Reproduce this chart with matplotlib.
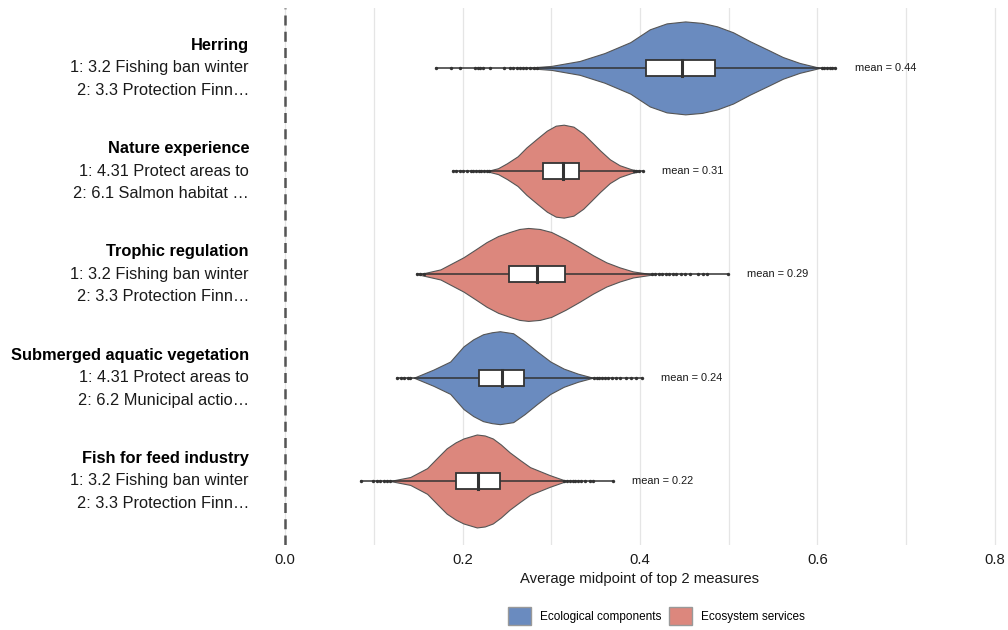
import matplotlib
matplotlib.use("Agg")
import matplotlib.pyplot as plt
from matplotlib.patches import Patch, Rectangle
from matplotlib.transforms import blended_transform_factory

plt.rcParams["font.family"] = ["Liberation Sans", "DejaVu Sans"]

# categories, top to bottom
titles = ["Herring", "Nature experience", "Trophic regulation",
          "Submerged aquatic vegetation", "Fish for feed industry"]
measure1 = ["1: 3.2 Fishing ban winter", "1: 4.31 Protect areas to",
            "1: 3.2 Fishing ban winter", "1: 4.31 Protect areas to",
            "1: 3.2 Fishing ban winter"]
measure2 = ["2: 3.3 Protection Finn\u2026", "2: 6.1 Salmon habitat \u2026",
            "2: 3.3 Protection Finn\u2026", "2: 6.2 Municipal actio\u2026",
            "2: 3.3 Protection Finn\u2026"]
groups = ["Ecological components", "Ecosystem services", "Ecosystem services",
          "Ecological components", "Ecosystem services"]
means = [0.44, 0.31, 0.29, 0.24, 0.22]

# violin outlines: x values and relative density (1 = widest)
herring_x = [0.270, 0.300, 0.332, 0.360, 0.389, 0.411, 0.430, 0.451, 0.470,
             0.487, 0.505, 0.524, 0.545, 0.561, 0.580, 0.603]
herring_d = [0, 2, 7, 15, 26, 39, 45, 47, 45.5, 42, 36, 27, 18, 11, 5, 0]
nature_x = [0.227, 0.240, 0.250, 0.262, 0.272, 0.284, 0.295, 0.305, 0.314,
            0.325, 0.336, 0.345, 0.355, 0.366, 0.377, 0.390, 0.400]
nature_d = [0, 3, 8, 15, 24, 33, 41, 46, 47, 45, 38, 30, 21, 12, 6, 2, 0]
trophic_x = [0.150, 0.175, 0.201, 0.215, 0.227, 0.240, 0.253, 0.264, 0.274,
             0.287, 0.300, 0.316, 0.332, 0.347, 0.362, 0.377, 0.392, 0.415]
trophic_d = [0, 5, 17, 25, 32, 38, 42, 45, 46, 45, 42, 35, 27, 19, 12, 7, 3, 0]
sav_x = [0.145, 0.167, 0.186, 0.201, 0.212, 0.223, 0.233, 0.242, 0.257,
         0.270, 0.284, 0.299, 0.314, 0.330, 0.347]
sav_d = [0, 8, 16, 31, 38, 43, 45, 46, 44, 36, 26, 16, 9, 4, 0]
fish_x = [0.118, 0.141, 0.160, 0.172, 0.182, 0.192, 0.201, 0.216, 0.225,
          0.234, 0.243, 0.253, 0.265, 0.276, 0.298, 0.317]
fish_d = [0, 4, 13, 24, 33, 39, 43, 47, 46, 43, 37, 29, 21, 14, 6, 0]

# box stats: q1, median, q3
q1 = [0.407, 0.291, 0.252, 0.218, 0.193]
med = [0.447, 0.313, 0.284, 0.244, 0.217]
q3 = [0.485, 0.331, 0.316, 0.269, 0.242]

# outlier points
herring_out = [0.170, 0.187, 0.197, 0.214, 0.217, 0.220, 0.223, 0.231, 0.247,
               0.253, 0.257, 0.261, 0.265, 0.268, 0.272, 0.276, 0.280, 0.284,
               0.605, 0.608, 0.611, 0.614, 0.617, 0.620]
nature_out = [0.189, 0.193, 0.197, 0.201, 0.205, 0.209, 0.212, 0.215, 0.218,
              0.221, 0.224, 0.227, 0.230, 0.393, 0.396, 0.399, 0.403]
trophic_out = [0.149, 0.152, 0.156, 0.413, 0.417, 0.421, 0.425, 0.429, 0.433,
               0.437, 0.441, 0.446, 0.451, 0.456, 0.465, 0.471, 0.475, 0.499]
sav_out = [0.126, 0.130, 0.134, 0.138, 0.141, 0.348, 0.351, 0.354, 0.357,
           0.360, 0.364, 0.368, 0.373, 0.378, 0.384, 0.390, 0.396, 0.402]
fish_out = [0.086, 0.099, 0.103, 0.107, 0.111, 0.115, 0.118, 0.314, 0.318,
            0.321, 0.324, 0.327, 0.330, 0.334, 0.338, 0.344, 0.347, 0.369]

violin_x = [herring_x, nature_x, trophic_x, sav_x, fish_x]
violin_d = [herring_d, nature_d, trophic_d, sav_d, fish_d]
outliers = [herring_out, nature_out, trophic_out, sav_out, fish_out]

colors = {"Ecological components": "#6A8BBF", "Ecosystem services": "#DC877D"}

fig = plt.figure(figsize=(10.08, 6.3), dpi=100)
ax = fig.add_axes([283 / 1008, 85 / 630, 714 / 1008, 537 / 630])
tr = blended_transform_factory(fig.transFigure, ax.transData)

n = len(titles)
pos = list(range(n - 1, -1, -1))
half = 0.45  # max half-width of a violin
bh = 0.078   # half-height of the box
lx = 249 / 1008

for i in range(n):
    y = pos[i]
    xs = violin_x[i]
    dmax = max(violin_d[i])
    w = [d / dmax * half for d in violin_d[i]]
    ax.fill_between(xs, [y - v for v in w], [y + v for v in w],
                    facecolor=colors[groups[i]], edgecolor="#555555",
                    linewidth=0.8, zorder=2)
    # range line through the points
    lo = min(outliers[i] + [q1[i]])
    hi = max(outliers[i] + [q3[i]])
    ax.plot([lo, hi], [y, y], color="#333333", lw=1.1, zorder=3)
    ax.scatter(outliers[i], [y] * len(outliers[i]), s=6, color="#333333",
               zorder=4, linewidths=0)
    ax.add_patch(Rectangle((q1[i], y - bh), q3[i] - q1[i], 2 * bh,
                           facecolor="white", edgecolor="#333333", lw=1.3,
                           zorder=5))
    ax.plot([med[i], med[i]], [y - bh, y + bh], color="#333333", lw=2.2,
            zorder=6)
    ax.text(hi + 0.022, y, f"mean = {means[i]:.2f}", fontsize=7.9,
            va="center", ha="left", color="#1a1a1a")
    # category labels
    ax.text(lx, y + 0.218, titles[i], transform=tr, ha="right", va="center",
            fontsize=11.8, fontweight="bold", color="black")
    ax.text(lx, y, measure1[i], transform=tr, ha="right", va="center",
            fontsize=11.8, color="#1a1a1a")
    ax.text(lx, y - 0.218, measure2[i], transform=tr, ha="right", va="center",
            fontsize=11.8, color="#1a1a1a")

ax.axvline(0, color="#555555", lw=1.8, ls=(0, (4, 2.5)), zorder=1)

ax.set_xlim(-0.0025, 0.8025)
ax.set_ylim(-0.62, 4.58)
ax.set_xticks([0, 0.2, 0.4, 0.6, 0.8])
ax.set_xticklabels(["0.0", "0.2", "0.4", "0.6", "0.8"])
ax.set_xticks([0.1, 0.3, 0.5, 0.7], minor=True)
ax.set_yticks([])
ax.grid(axis="x", which="both", color="#E5E5E5", lw=0.9, zorder=0)
ax.set_axisbelow(True)
ax.tick_params(axis="x", which="both", length=0, labelsize=10.7,
               labelcolor="#1a1a1a", pad=6)
for s in ax.spines.values():
    s.set_visible(False)
ax.set_xlabel("Average midpoint of top 2 measures", fontsize=10.7,
              color="#1a1a1a", labelpad=3)

handles = [Patch(facecolor=colors[g], edgecolor="#999999", label=g)
           for g in ["Ecological components", "Ecosystem services"]]
fig.legend(handles=handles, loc="center", bbox_to_anchor=(0.651, 0.0225),
           ncol=2, frameon=False, fontsize=8.5, handlelength=1.95,
           handleheight=2.0, columnspacing=0.65, handletextpad=0.75)

fig.savefig("out.png", dpi=100)
